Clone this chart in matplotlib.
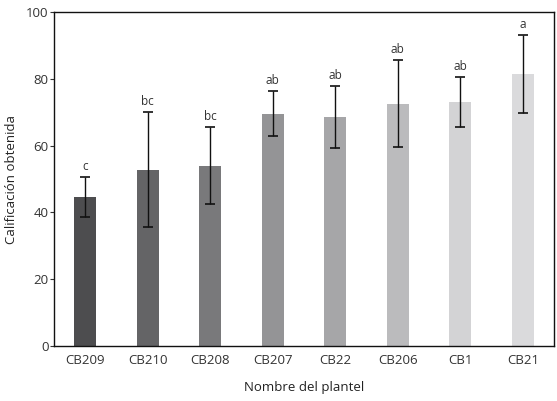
import matplotlib
matplotlib.use("Agg")
import matplotlib.pyplot as plt

categories = ["CB209", "CB210", "CB208", "CB207", "CB22", "CB206", "CB1", "CB21"]
means = [44.5, 52.8, 54.0, 69.5, 68.5, 72.5, 73.0, 81.5]
errors = [6.0, 17.3, 11.6, 6.7, 9.3, 13.0, 7.4, 11.7]
letters = ["c", "bc", "bc", "ab", "ab", "ab", "ab", "a"]
colors = ["#4d4d4f", "#646466", "#79797b", "#949496", "#a6a6a8", "#bbbbbd", "#d3d3d5", "#dadadc"]
yticks = [0, 20, 40, 60, 80, 100]

plt.rcParams['font.family'] = ['Open Sans', 'DejaVu Sans']
fig = plt.figure(figsize=(5.57, 4.01), dpi=100)
ax = fig.add_axes([54/557, 1 - 346/401, 500/557, 334/401])

x = list(range(len(categories)))
ax.bar(x, means, width=0.35, color=colors, zorder=2)
ax.errorbar(x, means, yerr=errors, fmt='none', ecolor='#111111', elinewidth=1.0,
            capsize=3.3, capthick=1.2, zorder=3)
for xi, m, e, l in zip(x, means, errors, letters):
    ax.text(xi, m + e + 1.2, l, ha='center', va='bottom', fontsize=8.5, color='#333333')

ax.set_xlim(-0.5, len(categories) - 0.5)
ax.set_ylim(0, 100)
ax.set_yticks(yticks)
ax.set_xticks(x)
ax.set_xticklabels(categories)
ax.tick_params(axis='x', length=0, pad=6, labelsize=9.5, labelcolor='#333333')
ax.tick_params(axis='y', length=3, width=0.8, pad=1, labelsize=9.5, labelcolor='#333333', color='#333333')
for s in ax.spines.values():
    s.set_linewidth(1.0)
    s.set_color('#111111')

ax.set_ylabel("Calificación obtenida", fontsize=9.5, color='#222222', labelpad=6)
ax.set_xlabel("Nombre del plantel", fontsize=9.5, color='#222222', labelpad=10)

fig.savefig("out.png", dpi=100)
